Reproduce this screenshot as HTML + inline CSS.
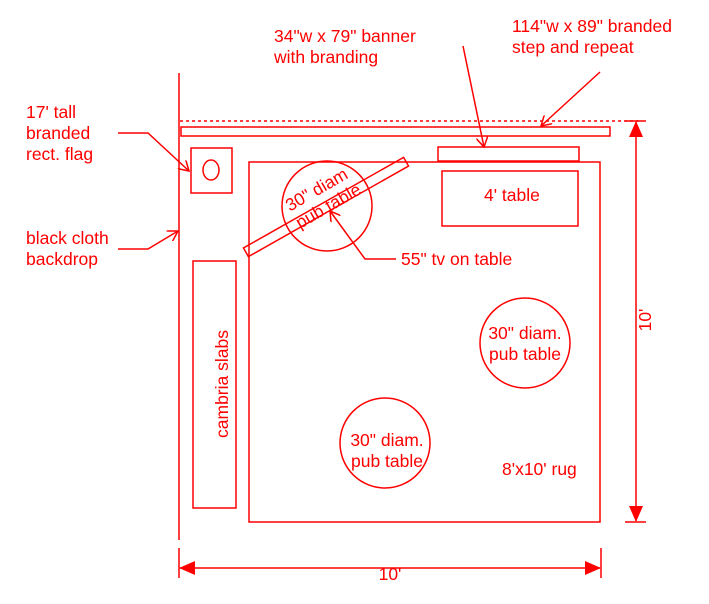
<!DOCTYPE html>
<html><head><style>
html,body{margin:0;padding:0;background:#fff;width:709px;height:604px;overflow:hidden}
svg text{font-family:"Liberation Sans",Arial,sans-serif;font-size:17.5px;fill:#f00}
</style></head><body>
<svg width="709" height="604" viewBox="0 0 709 604" xmlns="http://www.w3.org/2000/svg" fill="none" stroke="#f00" stroke-width="1.5">
<defs>
<marker id="oa" markerWidth="12" markerHeight="12" refX="10" refY="6" orient="auto" markerUnits="userSpaceOnUse"><path d="M0,0 L10,6 L0,12" fill="none" stroke="#f00" stroke-width="1.5"/></marker>
<marker id="fa" markerWidth="16" markerHeight="14" refX="15" refY="7" orient="auto" markerUnits="userSpaceOnUse"><path d="M0,0 L16,7 L0,14 Z" fill="#f00" stroke="none"/></marker>
</defs>
<line x1="179" y1="73" x2="179" y2="540"/>
<line x1="180" y1="121" x2="640" y2="121" stroke-dasharray="3,3"/>
<rect x="181" y="127" width="429" height="9"/>
<rect x="438" y="147" width="141" height="14"/>
<rect x="249" y="162" width="351" height="360"/>
<rect x="442" y="171" width="136" height="55"/>
<rect x="191" y="148" width="41" height="45"/>
<ellipse cx="211" cy="170" rx="8" ry="10"/>
<rect x="193" y="261" width="43" height="247"/>
<circle cx="327" cy="206" r="45"/>
<g transform="translate(326,207) rotate(-29.5)"><rect x="-92" y="-5" width="184" height="10"/></g>
<circle cx="525" cy="343" r="45"/>
<circle cx="385" cy="443" r="45"/>
<line x1="625" y1="121" x2="646" y2="121"/>
<line x1="625" y1="522" x2="646" y2="522"/>
<line x1="636" y1="300" x2="636" y2="122" marker-end="url(#fa)"/>
<line x1="636" y1="300" x2="636" y2="521" marker-end="url(#fa)"/>
<line x1="179" y1="548" x2="179" y2="578"/>
<line x1="601" y1="548" x2="601" y2="578"/>
<line x1="390" y1="568" x2="180" y2="568" marker-end="url(#fa)"/>
<line x1="390" y1="568" x2="600" y2="568" marker-end="url(#fa)"/>
<polyline points="118,133 148,133 189,171" marker-end="url(#oa)"/>
<polyline points="118,249 148,249 178,231" marker-end="url(#oa)"/>
<line x1="463" y1="46" x2="484" y2="147" marker-end="url(#oa)"/>
<line x1="600" y1="72" x2="541" y2="126" marker-end="url(#oa)"/>
<polyline points="396,259 365,259 330,211" marker-end="url(#oa)"/>
<g stroke="none">
<text x="26" y="118">17' tall</text>
<text x="26" y="139">branded</text>
<text x="26" y="160">rect. flag</text>
<text x="26" y="244">black cloth</text>
<text x="26" y="265">backdrop</text>
<text x="274" y="42">34"w x 79" banner</text>
<text x="274" y="63">with branding</text>
<text x="512" y="32">114"w x 89" branded</text>
<text x="512" y="53">step and repeat</text>
<text x="484" y="201">4' table</text>
<text x="401" y="265">55" tv on table</text>
<text x="525" y="339" text-anchor="middle">30" diam.</text>
<text x="525" y="360" text-anchor="middle">pub table</text>
<text x="387" y="446" text-anchor="middle">30" diam.</text>
<text x="387" y="467" text-anchor="middle">pub table</text>
<text x="502" y="475">8'x10' rug</text>
<text x="390" y="580" text-anchor="middle">10'</text>
<text transform="translate(651,320) rotate(-90)" text-anchor="middle">10'</text>
<text transform="translate(228,384) rotate(-90)" text-anchor="middle">cambria slabs</text>
<g transform="translate(322,199) rotate(-30)">
<text x="0" y="-5" text-anchor="middle">30" diam</text>
<text x="2" y="15" text-anchor="middle">pub table</text>
</g>
</g>
</svg>
</body></html>
